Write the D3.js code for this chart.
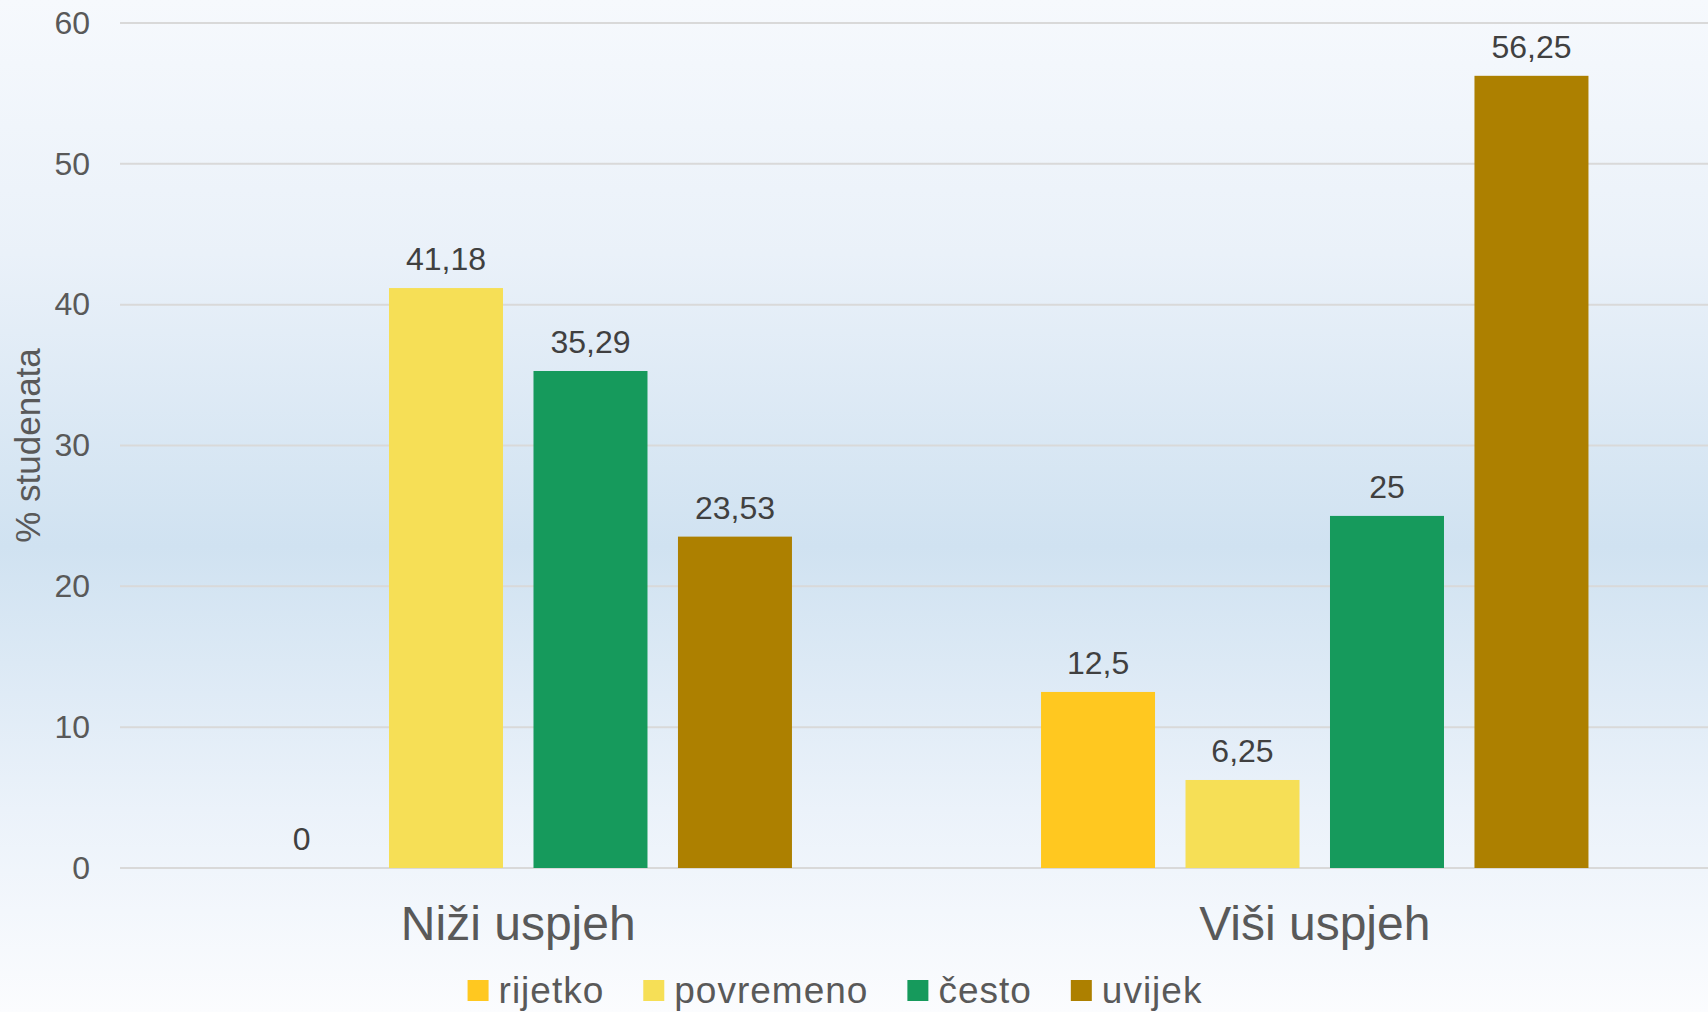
<!DOCTYPE html>
<html>
<head>
<meta charset="utf-8">
<script src="https://cdn.jsdelivr.net/npm/d3@7"></script>
<style>
  html, body { margin: 0; padding: 0; }
  svg { display: block; font-family: "Liberation Sans", Arial, sans-serif; }
</style>
</head>
<body>
<svg></svg>
<script>
let groups = ["Niži uspjeh", "Viši uspjeh"];
let series = ["rijetko", "povremeno", "često", "uvijek"];
let niziValues = [0, 41.18, 35.29, 23.53];
let visiValues = [12.5, 6.25, 25, 56.25];
let colors = ["#ffc820", "#f6df56", "#169a5c", "#ad8000"];
let yTicks = [0, 10, 20, 30, 40, 50, 60];

let width = 1708;
let height = 1012;

let values = [niziValues, visiValues];

let svg = d3.select("svg").attr("width", width).attr("height", height);

// background gradient
let defs = svg.append("defs");
let grad = defs.append("linearGradient")
  .attr("id", "bg").attr("x1", 0).attr("y1", 0).attr("x2", 0).attr("y2", 1);
grad.append("stop").attr("offset", "0%").attr("stop-color", "#f6f9fd");
grad.append("stop").attr("offset", "25%").attr("stop-color", "#eaf1f9");
grad.append("stop").attr("offset", "54%").attr("stop-color", "#d0e2f1");
grad.append("stop").attr("offset", "80%").attr("stop-color", "#ebf2fa");
grad.append("stop").attr("offset", "100%").attr("stop-color", "#fbfcfe");
svg.append("rect").attr("width", width).attr("height", height).attr("fill", "url(#bg)");

let xScale = d3.scaleBand().domain(groups).range([120, 1713]);
let xInner = d3.scaleBand().domain(series)
  .range([0, xScale.bandwidth()])
  .paddingInner(0.211)
  .paddingOuter(0.862);
let yScale = d3.scaleLinear().domain([0, 60]).range([868, 23]);

// gridlines
svg.append("g")
  .selectAll("line")
  .data(yTicks)
  .enter()
  .append("line")
  .attr("x1", 120)
  .attr("x2", width)
  .attr("y1", (d) => yScale(d))
  .attr("y2", (d) => yScale(d))
  .attr("stroke", "#d9d9d9")
  .attr("stroke-width", 2);

// y axis labels
let yAxis = d3.axisLeft(yScale).tickValues(yTicks).tickSize(0).tickPadding(0);
let yG = svg.append("g").attr("transform", "translate(90,0)").call(yAxis);
yG.select(".domain").remove();
yG.selectAll("text")
  .attr("font-family", "Liberation Sans, Arial, sans-serif")
  .attr("font-size", 32)
  .attr("fill", "#595959");

// y title
svg.append("text")
  .attr("transform", "translate(40," + ((868 + 23) / 2) + ") rotate(-90)")
  .attr("text-anchor", "middle")
  .attr("font-size", 35)
  .attr("fill", "#595959")
  .text("% studenata");

// bars
let rows = [];
groups.forEach((g, gi) => {
  series.forEach((s, si) => {
    rows.push({ group: g, series: s, value: values[gi][si], color: colors[si] });
  });
});

svg.append("g")
  .selectAll("rect")
  .data(rows)
  .enter()
  .append("rect")
  .attr("x", (d) => xScale(d.group) + xInner(d.series))
  .attr("y", (d) => yScale(d.value))
  .attr("width", xInner.bandwidth())
  .attr("height", (d) => yScale(0) - yScale(d.value))
  .attr("fill", (d) => d.color);

// value labels
svg.append("g")
  .selectAll("text")
  .data(rows)
  .enter()
  .append("text")
  .attr("x", (d) => xScale(d.group) + xInner(d.series) + xInner.bandwidth() / 2)
  .attr("y", (d) => yScale(d.value) - 18)
  .attr("text-anchor", "middle")
  .attr("font-size", 32)
  .attr("fill", "#404040")
  .text((d) => String(d.value).replace(".", ","));

// category labels
let xAxis = d3.axisBottom(xScale).tickSize(0).tickPadding(0);
let xG = svg.append("g").call(xAxis);
xG.select(".domain").remove();
xG.selectAll("text")
  .attr("y", 940)
  .attr("dy", null)
  .attr("font-family", "Liberation Sans, Arial, sans-serif")
  .attr("font-size", 48)
  .attr("fill", "#595959");

// legend
let legend = svg.append("g");
let items = legend.selectAll("g")
  .data(series)
  .enter()
  .append("g");
items.append("rect")
  .attr("width", 21)
  .attr("height", 21)
  .attr("y", 980)
  .attr("fill", (d, i) => colors[i]);
items.append("text")
  .attr("x", 31)
  .attr("y", 1003)
  .attr("font-size", 37)
  .attr("letter-spacing", 1)
  .attr("fill", "#595959")
  .text((d) => d);

let offsets = [];
let pos = 0;
items.each(function () {
  offsets.push(pos);
  let w = d3.select(this).select("text").node().getComputedTextLength();
  pos += 31 + w + 39;
});
let total = pos - 39;
let start = 835 - total / 2;
items.attr("transform", (d, i) => "translate(" + (start + offsets[i]) + ",0)");
</script>
</body>
</html>
